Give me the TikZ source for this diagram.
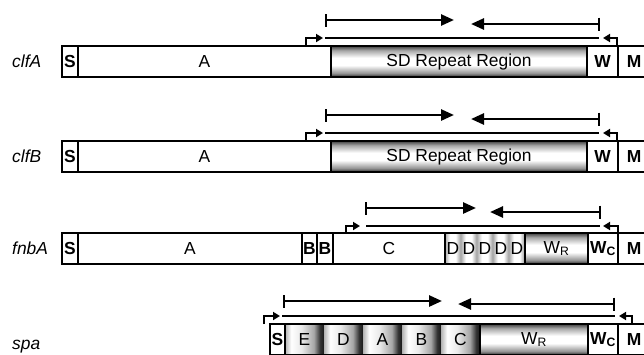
\documentclass[tikz,border=0pt]{standalone}
\usepackage{fontspec}
\setmainfont{Liberation Sans}
\usetikzlibrary{arrows.meta}

% metallic shadings: tube along x (repeat regions) and short repeat units
\pgfdeclareverticalshading{cylshade}{100bp}{color(0bp)=(black!85); color(25bp)=(black!85); color(31bp)=(gray!85); color(44bp)=(white); color(56bp)=(white); color(68bp)=(gray!70); color(75bp)=(black!75); color(100bp)=(black!75)}
\pgfdeclarehorizontalshading{repshade}{100bp}{color(0bp)=(gray!60); color(25bp)=(gray!60); color(33bp)=(white); color(46bp)=(white!92!black); color(62bp)=(gray!70); color(70bp)=(black!80); color(75bp)=(black!90); color(100bp)=(black!90)}
\pgfdeclarehorizontalshading{dshade}{100bp}{color(0bp)=(gray!65); color(25bp)=(gray!65); color(40bp)=(white); color(58bp)=(white); color(75bp)=(gray!80); color(100bp)=(gray!80)}

\newcommand\segfont{\fontsize{17.4}{20}\selectfont}

% \seg[options]{name}{x left}{x right}{top}{text}
\newcommand\seg[6][]{%
  \pgfmathsetmacro\segwidth{#4-#3}%
  \node[segbox,#1,minimum width=\segwidth pt] (#2) at (#3,#5) {#6};}

\tikzset{
  segbox/.style={draw=black, line width=1.8pt, fill=white, minimum height=31pt,
    inner sep=0pt, outer sep=0pt, anchor=north west, font=\segfont},
  cyl/.style={shade, shading=cylshade},
  repunit/.style={draw=none, shade, shading=repshade},
  dunit/.style={draw=none, shade, shading=dshade},
  frame/.style={draw=black, line width=1.8pt},
  gene/.style={anchor=base west, inner sep=0pt, font=\segfont\itshape},
  primer/.style={line width=2.6pt,
    {Bar[width=13pt,line width=2.2pt]}-{Triangle[length=13pt,width=11pt]}},
  amplicon/.style={line width=2.3pt},
  promoter/.style={line width=1.8pt, -{Triangle[length=7pt,width=8pt]}},
}

\begin{document}
\begin{tikzpicture}[x=1pt,y=-1pt]
\useasboundingbox (0,0) rectangle (644,354);

% ---------------- clfA ----------------
\node[gene] (gA) at (12,67) {clfA};
\seg{aS}{62}{78}{46}{\textbf{S}}
\seg{aA}{78}{331}{46}{A}
\seg[cyl]{aSD}{331}{587}{46}{SD Repeat Region}
\seg{aW}{587}{618}{46}{\textbf{W}}
\seg{aM}{618}{650}{46}{\textbf{M}}
\coordinate (aF1) at (325,20); \coordinate (aF2) at (454,20);
\coordinate (aR1) at (600,24); \coordinate (aR2) at (471,24);
\coordinate (aL1) at (325,38); \coordinate (aL2) at (599,38);
\coordinate (aP1) at (306,46); \coordinate (aP2) at (323,38);
\coordinate (aQ1) at (617,46); \coordinate (aQ2) at (603,38);
\draw[primer] (aF1) -- (aF2);
\draw[primer] (aR1) -- (aR2);
\draw[amplicon] (aL1) -- (aL2);
\draw[promoter] (aP1) |- (aP2);
\draw[promoter] (aQ1) |- (aQ2);

% ---------------- clfB ----------------
\node[gene] (gB) at (12,162) {clfB};
\seg{bS}{62}{78}{141}{\textbf{S}}
\seg{bA}{78}{331}{141}{A}
\seg[cyl]{bSD}{331}{587}{141}{SD Repeat Region}
\seg{bW}{587}{618}{141}{\textbf{W}}
\seg{bM}{618}{650}{141}{\textbf{M}}
\coordinate (bF1) at (325,115); \coordinate (bF2) at (454,115);
\coordinate (bR1) at (600,119); \coordinate (bR2) at (471,119);
\coordinate (bL1) at (325,133); \coordinate (bL2) at (599,133);
\coordinate (bP1) at (306,141); \coordinate (bP2) at (323,133);
\coordinate (bQ1) at (617,141); \coordinate (bQ2) at (603,133);
\draw[primer] (bF1) -- (bF2);
\draw[primer] (bR1) -- (bR2);
\draw[amplicon] (bL1) -- (bL2);
\draw[promoter] (bP1) |- (bP2);
\draw[promoter] (bQ1) |- (bQ2);

% ---------------- fnbA ----------------
\node[gene] (gF) at (12,254) {fnbA};
\seg{fS}{62}{78}{233}{\textbf{S}}
\seg{fA}{78}{302}{233}{A}
\seg{fB1}{302}{317}{233}{\textbf{B}}
\seg{fB2}{317}{333}{233}{\textbf{B}}
\seg{fC}{333}{445}{233}{C}
\seg[dunit]{fD1}{445}{461}{233}{D}
\seg[dunit]{fD2}{461}{477}{233}{D}
\seg[dunit]{fD3}{477}{493}{233}{D}
\seg[dunit]{fD4}{493}{509}{233}{D}
\seg[dunit]{fD5}{509}{525}{233}{D}
\draw[frame] (fD1.north west) rectangle (fD5.south east);
\seg[cyl]{fWR}{525}{588}{233}{W\textsubscript{R}}
\seg{fWC}{588}{618}{233}{\textbf{W\textsubscript{C}}}
\seg{fM}{618}{650}{233}{\textbf{M}}
\coordinate (fF1) at (365,208); \coordinate (fF2) at (476,208);
\coordinate (fR1) at (601,212); \coordinate (fR2) at (490,212);
\coordinate (fL1) at (366,226); \coordinate (fL2) at (600,226);
\coordinate (fP1) at (346,233); \coordinate (fP2) at (360,226);
\coordinate (fQ1) at (618,233); \coordinate (fQ2) at (603,226);
\draw[primer] (fF1) -- (fF2);
\draw[primer] (fR1) -- (fR2);
\draw[amplicon] (fL1) -- (fL2);
\draw[promoter] (fP1) |- (fP2);
\draw[promoter] (fQ1) |- (fQ2);

% ---------------- spa ----------------
\node[gene] (gS) at (12,349) {spa};
\seg[repunit]{sE}{285}{324}{324}{E}
\seg[repunit]{sD}{324}{363}{324}{D}
\seg[repunit]{sA}{363}{402}{324}{A}
\seg[repunit]{sB}{402}{441}{324}{B}
\seg[repunit]{sC}{441}{480}{324}{C}
\draw[frame] (sE.north west) rectangle (sC.south east);
\seg{sS}{270}{285}{324}{\textbf{S}}
\seg[cyl]{sWR}{480}{588}{324}{W\textsubscript{R}}
\seg{sWC}{588}{618}{324}{\textbf{W\textsubscript{C}}}
\seg{sM}{618}{650}{324}{\textbf{M}}
\coordinate (sF1) at (283,301); \coordinate (sF2) at (442,301);
\coordinate (sR1) at (615,304); \coordinate (sR2) at (458,304);
\coordinate (sL1) at (282,316); \coordinate (sL2) at (615,316);
\coordinate (sP1) at (264,324); \coordinate (sP2) at (280,316);
\coordinate (sQ1) at (632,324); \coordinate (sQ2) at (619,316);
\draw[primer] (sF1) -- (sF2);
\draw[primer] (sR1) -- (sR2);
\draw[amplicon] (sL1) -- (sL2);
\draw[promoter] (sP1) |- (sP2);
\draw[promoter] (sQ1) |- (sQ2);
\end{tikzpicture}
\end{document}
